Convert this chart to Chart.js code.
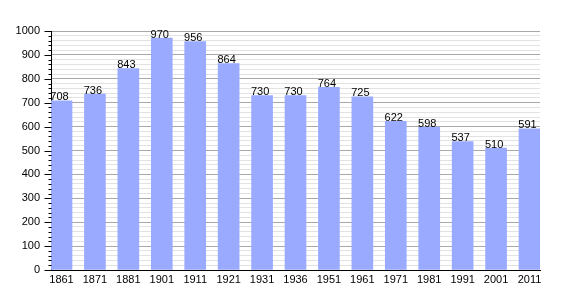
<!DOCTYPE html>
<html>
<head>
<meta charset="utf-8">
<script src="https://cdn.jsdelivr.net/npm/chart.js@4/dist/chart.umd.min.js"></script>
<style>
  html, body { margin: 0; padding: 0; background: #fff; }
  #wrap { width: 570px; height: 300px; }
</style>
</head>
<body>
<div id="wrap"><canvas id="chart" width="570" height="300"></canvas></div>
<script>
const years = ['1861', '1871', '1881', '1901', '1911', '1921', '1931', '1936', '1951', '1961', '1971', '1981', '1991', '2001', '2011'];
const population = [708, 736, 843, 970, 956, 864, 730, 730, 764, 725, 622, 598, 537, 510, 591];
const yTicks = [0, 100, 200, 300, 400, 500, 600, 700, 800, 900, 1000];

const FONT = '"Liberation Sans", Arial, sans-serif';

// values written above each bar
const valueLabels = {
  id: 'valueLabels',
  afterDatasetsDraw(chart) {
    const ctx = chart.ctx;
    const meta = chart.getDatasetMeta(0);
    ctx.save();
    ctx.font = '11px ' + FONT;
    ctx.fillStyle = '#000';
    ctx.textAlign = 'center';
    ctx.textBaseline = 'bottom';
    meta.data.forEach((bar, i) => {
      ctx.fillText(String(population[i]), bar.x - 2, bar.y + 2);
    });
    ctx.restore();
  }
};

// y tick marks: long for hundreds, short for the minor steps
const yTickMarks = {
  id: 'yTickMarks',
  afterDraw(chart) {
    const y = chart.scales.y;
    const ctx = chart.ctx;
    const x0 = Math.round(y.right) + 0.5;
    ctx.save();
    ctx.strokeStyle = '#000';
    ctx.lineWidth = 1;
    ctx.beginPath();
    y.ticks.forEach((t) => {
      const py = Math.round(y.getPixelForValue(t.value)) + 0.5;
      const len = t.value % 100 === 0 ? 7 : 3;
      ctx.moveTo(x0 - len, py);
      ctx.lineTo(x0, py);
    });
    ctx.stroke();
    ctx.restore();
  }
};

new Chart(document.getElementById('chart').getContext('2d'), {
  type: 'bar',
  data: {
    datasets: [{
      data: population.map((v, i) => ({ x: i, y: v })),
      backgroundColor: '#99aaff',
      borderWidth: 0,
      barThickness: 21
    }]
  },
  options: {
    responsive: false,
    animation: false,
    layout: { padding: { top: 31, right: 30, left: 0, bottom: 0 } },
    plugins: { legend: { display: false }, tooltip: { enabled: false } },
    scales: {
      x: {
        type: 'linear',
        offset: false,
        min: -0.314,
        max: 14.314,
        afterBuildTicks: (scale) => {
          scale.ticks = years.map((_, i) => ({ value: i }));
        },
        afterFit: (scale) => { scale.height = 30; },
        grid: { display: false, drawTicks: false, offset: false },
        border: { display: true, color: '#000', width: 1 },
        ticks: {
          autoSkip: false,
          maxRotation: 0,
          padding: 3,
          color: '#000',
          font: { family: FONT, size: 11 },
          callback: (v) => years[v] || ''
        }
      },
      y: {
        min: 0,
        max: 1000,
        afterBuildTicks: (scale) => {
          const t = [];
          for (let v = 0; v <= 1000; v += 20) t.push({ value: v });
          scale.ticks = t;
        },
        afterFit: (scale) => { scale.width = 51; },
        border: { display: true, color: '#000', width: 1 },
        grid: {
          color: (c) => (c.tick && c.tick.value % 100 === 0 ? '#a8a8a8' : '#e2e2e2'),
          drawTicks: false
        },
        ticks: {
          autoSkip: false,
          padding: 11,
          color: '#000',
          font: { family: FONT, size: 11 },
          callback: (v) => (yTicks.includes(v) ? String(v) : '')
        }
      }
    }
  },
  plugins: [valueLabels, yTickMarks]
});
</script>
</body>
</html>
